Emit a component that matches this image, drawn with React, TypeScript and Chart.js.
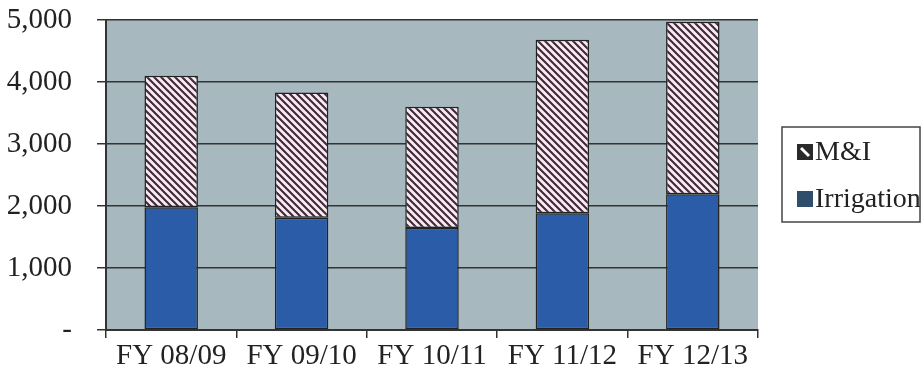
import React, { useEffect, useRef } from "react";
import { Chart, registerables } from "chart.js";

Chart.register(...registerables);

const categories = ["FY 08/09", "FY 09/10", "FY 10/11", "FY 11/12", "FY 12/13"];
const irrigation = [1980, 1810, 1645, 1885, 2190];
const mAndI = [2120, 2020, 1955, 2795, 2780];
const yTicks = [0, 1000, 2000, 3000, 4000, 5000];

const FONT = '"Liberation Serif", "Times New Roman", serif';
const INK = "#222222";

function makeHatch(): CanvasPattern | string {
  const c = document.createElement("canvas");
  c.width = 7;
  c.height = 7;
  const g = c.getContext("2d");
  if (!g) return "#ddd";
  g.fillStyle = "#f8ecf2";
  g.fillRect(0, 0, 7, 7);
  g.strokeStyle = "#43283a";
  g.lineWidth = 2.1;
  g.beginPath();
  g.moveTo(-1, -1);
  g.lineTo(8, 8);
  g.moveTo(-1, 6);
  g.lineTo(1, 8);
  g.moveTo(6, -1);
  g.lineTo(8, 1);
  g.stroke();
  return g.createPattern(c, "repeat") || "#ddd";
}

const plotBg = {
  id: "plotBg",
  beforeDraw(chart: any) {
    const { ctx, chartArea } = chart;
    ctx.save();
    ctx.fillStyle = "#a7b9bf";
    ctx.fillRect(chartArea.left, chartArea.top, chartArea.right - chartArea.left, chartArea.bottom - chartArea.top);
    ctx.restore();
  },
};

const boxedLegend = {
  id: "boxedLegend",
  afterDraw(chart: any) {
    const { ctx } = chart;
    const ds = chart.data.datasets.slice().reverse();
    ctx.save();
    ctx.strokeStyle = "#444";
    ctx.lineWidth = 1.5;
    ctx.strokeRect(782, 127, 138, 95);
    ctx.font = `28px ${FONT}`;
    ctx.textBaseline = "middle";
    ctx.textAlign = "left";
    const ys = [152, 199];
    ds.forEach((d: any, i: number) => {
      const y = ys[i];
      const x0 = 797;
      const y0 = y - 8;
      if (typeof d.backgroundColor === "string") {
        ctx.fillStyle = "#2e4e6c";
        ctx.fillRect(x0, y0, 16, 16);
      } else {
        ctx.fillStyle = "#2a2a2a";
        ctx.fillRect(x0, y0, 16, 16);
        ctx.strokeStyle = "#ffffff";
        ctx.lineWidth = 3;
        ctx.beginPath();
        ctx.moveTo(x0 + 4, y0 + 4);
        ctx.lineTo(x0 + 12, y0 + 12);
        ctx.stroke();
      }
      ctx.fillStyle = INK;
      ctx.fillText(d.label, 815, y + 1);
    });
    ctx.restore();
  },
};

export default function App() {
  const ref = useRef<HTMLCanvasElement>(null);

  useEffect(() => {
    if (!ref.current) return;
    const hatch = makeHatch();
    const chart = new Chart(ref.current, {
      type: "bar",
      data: {
        labels: categories,
        datasets: [
          {
            label: "Irrigation",
            data: irrigation,
            backgroundColor: "#2a5ca8",
            borderColor: INK,
            borderWidth: 1.5,
            borderSkipped: false,
          },
          {
            label: "M&I",
            data: mAndI,
            backgroundColor: hatch as any,
            borderColor: INK,
            borderWidth: 1.5,
            borderSkipped: false,
          },
        ],
      },
      options: {
        responsive: false,
        animation: false,
        devicePixelRatio: 1,
        layout: { padding: { top: 20, right: 164, left: 0, bottom: 0 } },
        datasets: { bar: { categoryPercentage: 1, barPercentage: 0.41 } },
        plugins: {
          legend: { display: false },
          tooltip: { enabled: false },
        },
        scales: {
          x: {
            stacked: true,
            afterFit: (s: any) => {
              s.height = 49;
            },
            grid: {
              offset: true,
              drawOnChartArea: false,
              drawTicks: true,
              tickLength: 8,
              color: "#333",
              lineWidth: 1.5,
            },
            border: { display: true, color: "#333", width: 2 },
            ticks: {
              color: INK,
              font: { family: FONT, size: 29 },
              padding: 1,
              maxRotation: 0,
              autoSkip: false,
            },
          },
          y: {
            stacked: true,
            min: 0,
            max: 5000,
            afterFit: (s: any) => {
              s.width = 106;
              s.paddingTop = 0;
              s.paddingBottom = 0;
            },
            afterBuildTicks: (s: any) => {
              s.ticks = yTicks.map((v) => ({ value: v }));
            },
            grid: {
              color: "#333",
              lineWidth: 1.5,
              drawTicks: true,
              tickLength: 9,
            },
            border: { display: true, color: "#333", width: 2 },
            ticks: {
              color: INK,
              font: { family: FONT, size: 29, lineHeight: 1 },
              padding: 25,
              callback: (v: any) => (Number(v) === 0 ? "-" : Number(v).toLocaleString("en-US")),
            },
          },
        },
      },
      plugins: [plotBg, boxedLegend],
    });
    return () => chart.destroy();
  }, []);

  return (
    <div style={{ position: "fixed", left: 0, top: 0, width: 922, height: 379, background: "#fff" }}>
      <canvas ref={ref} width={922} height={379} style={{ width: 922, height: 379 }} />
    </div>
  );
}
